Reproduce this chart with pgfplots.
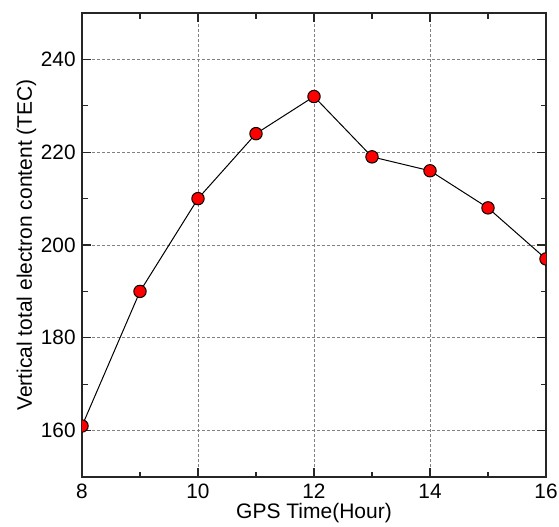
\documentclass[border=0pt]{standalone}
\usepackage{pgfplots}
\pgfplotsset{compat=1.18}
\usepackage{fontspec}
\setmainfont{Liberation Sans}
\begin{document}
\begin{tikzpicture}
\begin{axis}[
  scale only axis,
  width=232pt, height=232pt,
  xmin=8, xmax=16, ymin=150, ymax=250,
  xtick={8,10,12,14,16}, ytick={160,180,200,220,240},
  minor tick num=1,
  tick align=inside,
  major tick length=4.5pt, minor tick length=2.75pt,
  grid=major,
  major grid style={dash pattern=on 1.5pt off 1pt, black!50, line width=0.5pt},
  axis line style={line width=0.6pt, black!85},
  tick style={line width=0.6pt, black!85},
  /pgf/number format/assume math mode=true,
  tick label style={font=\fontsize{10.4}{12}\selectfont},
  label style={font=\fontsize{10.5}{12}\selectfont, inner sep=0pt},
  xticklabel style={anchor=base, yshift=-10.5pt, inner sep=0pt},
  yticklabel style={inner sep=0pt, xshift=-3pt},
  xlabel={GPS Time(Hour)},
  ylabel={Vertical total electron content (TEC)},
  xlabel style={at={(axis description cs:0.5,-0.08836)}, anchor=base},
  ylabel style={at={(axis description cs:-0.1078,0.5)}, anchor=base, rotate=0},
  clip marker paths=true,
]
\addplot[black, line width=0.5pt, mark=*, mark size=3.1pt,
  mark options={fill=red, draw=black, line width=0.5pt}]
coordinates {(8,161) (9,190) (10,210) (11,224) (12,232) (13,219) (14,216) (15,208) (16,197)};
\end{axis}
\path (current axis.south west) ++(-41pt,-24.5pt);
\path (current axis.north east) ++(6.5pt,6.5pt);
\end{tikzpicture}
\end{document}
